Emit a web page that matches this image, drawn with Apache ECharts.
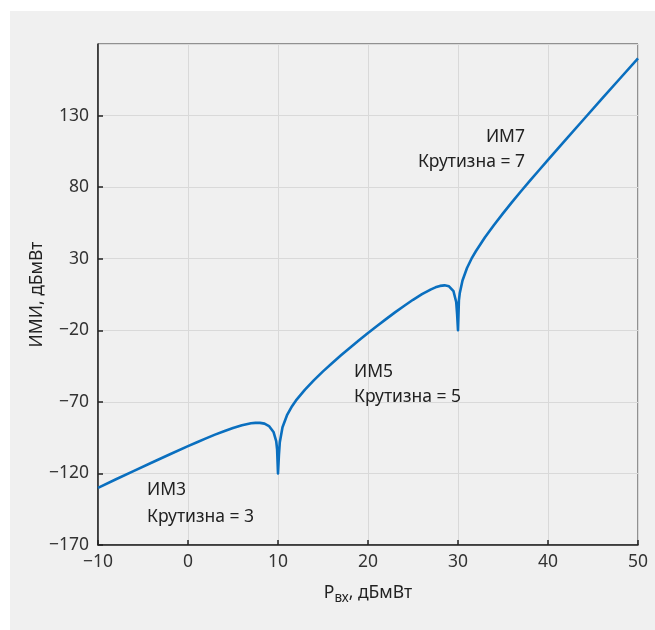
<!DOCTYPE html>
<html>
<head>
<meta charset="utf-8">
<script src="https://cdn.jsdelivr.net/npm/echarts@6/dist/echarts.min.js"></script>
<style>
html,body{margin:0;padding:0;background:#fff;}
#chart{width:655px;height:630px;}
</style>
</head>
<body>
<div id="chart"></div>
<script>
// Input power, dBm
const pin = [-10,-8,-6,-4,-2,0,1,2,3,4,5,6,7,7.5,8,8.5,9,9.5,9.8,9.9,10,10.1,10.2,10.5,11,11.5,12,13,14,15,16,17,18,19,20,21,22,23,24,25,26,27,27.5,28,28.5,29,29.5,29.8,29.9,30,30.1,30.2,30.5,31,31.5,32,33,34,35,36,37,38,39,40,42,44,46,48,50];
// IMD level, dBm
const imd = [-130.1,-124.1,-118.2,-112.4,-106.6,-100.9,-98.2,-95.5,-92.9,-90.5,-88.3,-86.4,-85.0,-84.7,-84.7,-85.2,-86.9,-91.0,-97.5,-103.1,-120,-107.5,-98.2,-87.7,-79.3,-73.6,-69.0,-61.4,-54.8,-48.7,-43.0,-37.5,-32.2,-27.0,-21.9,-17.0,-12.2,-7.5,-3.0,1.3,5.2,8.6,10.0,11.0,11.4,10.7,7.3,-0.2,-8.5,-20,0.9,6.1,14.8,23.5,30.0,35.4,45.0,53.6,61.7,69.5,77.1,84.5,91.8,99.1,113.4,127.6,141.8,155.9,169.9];
const xTicks = {min:-10, max:50, step:10};
const yTicks = {min:-170, max:180, step:50};
const notes = [
  {lines:['ИМ3','Крутизна = 3']},
  {lines:['ИМ5','Крутизна = 5']},
  {lines:['ИМ7','Крутизна = 7']}
];

const FONT = 'Noto Sans';
const chart = echarts.init(document.getElementById('chart'), null, {renderer:'canvas'});
function note(text, x, y, align){
  return {type:'text', x:x, y:y, z:10, silent:true,
    style:{text:text, fontFamily:FONT, fontSize:17.5, fill:'#222', textAlign:align||'left', textVerticalAlign:'middle'}};
}
const fmt = v => v<0 ? '\u2212'+Math.abs(v) : ''+v;
chart.setOption({
  backgroundColor: 'transparent',
  animation: false,
  graphic: [
    {type:'rect', z:-10, silent:true, shape:{x:10, y:11, width:645, height:619}, style:{fill:'#f0f0f0'}},
    note(notes[0].lines[0], 147, 490),
    note(notes[0].lines[1], 147, 517),
    note(notes[1].lines[0], 354, 372),
    note(notes[1].lines[1], 354, 397),
    note(notes[2].lines[0], 525, 137, 'right'),
    note(notes[2].lines[1], 525, 162, 'right')
  ],
  grid: {left:98, right:17, top:44, bottom:85, show:true, borderColor:'#333', borderWidth:1, backgroundColor:'transparent'},
  xAxis: {
    type:'value', min:xTicks.min, max:xTicks.max, interval:xTicks.step,
    name:'{m|P}{s|вх}{m|, дБмВт}', nameLocation:'middle', nameGap:37,
    nameTextStyle:{rich:{m:{fontFamily:FONT, fontSize:17.5, color:'#222'}, s:{fontFamily:FONT, fontSize:13.5, color:'#222', padding:[9,0,0,0]}}},
    axisLine:{show:true, onZero:false, lineStyle:{color:'#222', width:1.5}},
    axisTick:{show:true, inside:true, length:5, lineStyle:{color:'#222', width:1.5}},
    axisLabel:{fontFamily:FONT, fontSize:17.5, color:'#333', margin:8, formatter:fmt},
    splitLine:{show:true, lineStyle:{color:'#d9d9d9', width:1}}
  },
  yAxis: {
    type:'value', min:yTicks.min, max:yTicks.max, interval:yTicks.step,
    name:'ИМИ, дБмВт', nameLocation:'middle', nameGap:52, nameRotate:90, nameMoveOverlap:false,
    nameTextStyle:{fontFamily:FONT, fontSize:17.5, color:'#222'},
    axisLine:{show:true, onZero:false, lineStyle:{color:'#222', width:1.5}},
    axisTick:{show:true, inside:true, length:5, lineStyle:{color:'#222', width:1.5}},
    axisLabel:{fontFamily:FONT, fontSize:17.5, color:'#333', margin:9, showMaxLabel:false, formatter:fmt},
    splitLine:{show:true, lineStyle:{color:'#d9d9d9', width:1}}
  },
  series: [{
    type:'line',
    data: pin.map((x,i)=>[x, imd[i]]),
    showSymbol:false,
    smooth:false,
    clip:true,
    lineStyle:{color:'#0a6fbf', width:2.6, join:'round'}
  }]
});
</script>
</body>
</html>
